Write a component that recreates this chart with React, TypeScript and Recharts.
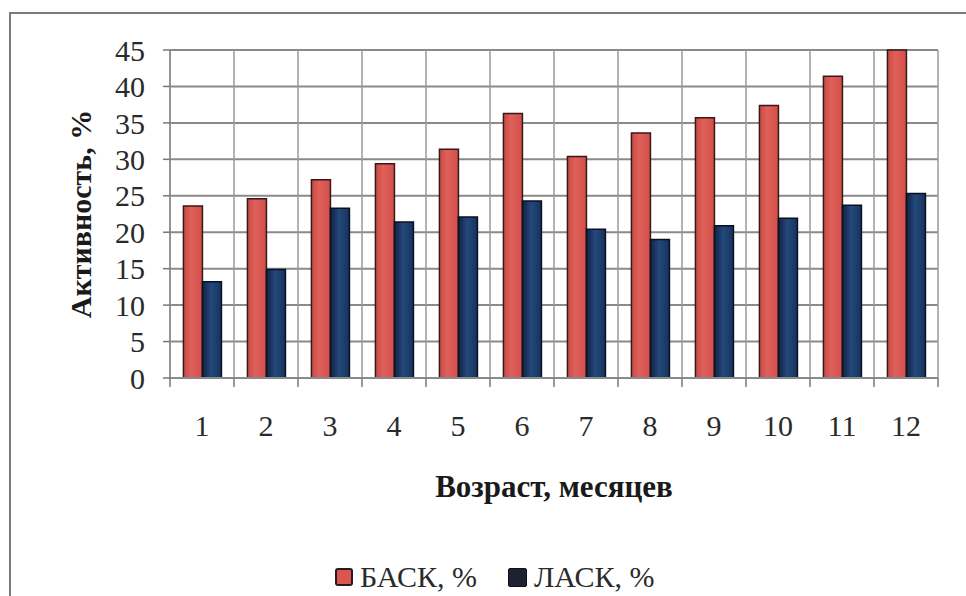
import React from 'react';
import {
  ComposedChart,
  Bar,
  XAxis,
  YAxis,
  CartesianGrid,
  ReferenceLine,
  Legend,
} from 'recharts';

const months = [1, 2, 3, 4, 5, 6, 7, 8, 9, 10, 11, 12];
const bask = [23.6, 24.6, 27.2, 29.4, 31.4, 36.3, 30.4, 33.6, 35.7, 37.4, 41.4, 45.0];
const lask = [13.2, 14.9, 23.3, 21.4, 22.1, 24.3, 20.4, 19.0, 20.9, 21.9, 23.7, 25.3];
const yTicks = [0, 5, 10, 15, 20, 25, 30, 35, 40, 45];

const seriesNames = ['БАСК, %', 'ЛАСК, %'];
const yTitle = 'Активность, %';
const xTitle = 'Возраст, месяцев';

const data = months.map((m, i) => ({ month: m, bask: bask[i], lask: lask[i] }));
const boundaries = [months[0] - 0.5, ...months.map((m) => m + 0.5)];
const xTicks = [...boundaries, ...months].sort((a, b) => a - b);

const FONT = '"Liberation Serif", "Times New Roman", Times, "Nimbus Roman", "DejaVu Serif", serif';

const XTick = (props: any) => {
  const { x, y, payload } = props;
  const v = payload.value;
  if (Number.isInteger(v)) {
    return (
      <text x={x} y={y + 58} textAnchor="middle" fontFamily={FONT} fontSize={30} fill="#2a2a2a">
        {v}
      </text>
    );
  }
  return <line x1={x} x2={x} y1={y} y2={y + 9} stroke="#777" strokeWidth={1.5} />;
};

const XTitle = (props: any) => {
  const vb = props.viewBox || {};
  return (
    <text
      x={vb.x + vb.width / 2}
      y={vb.y + 119}
      textAnchor="middle"
      fontFamily={FONT}
      fontSize={31}
      fontWeight="bold"
      fill="#1a1a1a"
    >
      {xTitle}
    </text>
  );
};

const YTitle = (props: any) => {
  const vb = props.viewBox || {};
  const cx = vb.x + 80;
  const cy = vb.y + vb.height / 2;
  return (
    <text
      x={cx}
      y={cy}
      transform={`rotate(-90, ${cx}, ${cy})`}
      textAnchor="middle"
      dominantBaseline="central"
      fontFamily={FONT}
      fontSize={30}
      fontWeight="bold"
      fill="#1a1a1a"
    >
      {yTitle}
    </text>
  );
};

const LegendContent = () => (
  <div
    style={{
      display: 'flex',
      justifyContent: 'flex-start',
      alignItems: 'center',
      paddingLeft: 335,
      paddingTop: 14,
      fontFamily: FONT,
      fontSize: 30,
      color: '#2a2a2a',
    }}
  >
    <span style={{ display: 'flex', alignItems: 'center', marginRight: 31 }}>
      <span
        style={{
          width: 14,
          height: 14,
          background: '#dc5651',
          border: '2px solid #2a1a1a',
          borderRadius: 3,
          marginRight: 7,
          display: 'inline-block',
        }}
      />
      {seriesNames[0]}
    </span>
    <span style={{ display: 'flex', alignItems: 'center' }}>
      <span
        style={{
          width: 17,
          height: 17,
          background: '#1c2233',
          border: '1px solid #111',
          borderRadius: 2,
          marginRight: 7,
          display: 'inline-block',
        }}
      />
      {seriesNames[1]}
    </span>
  </div>
);

export default function App() {
  return (
    <div style={{ position: 'absolute', left: 0, top: 0, width: 966, height: 596, background: '#fff', overflow: 'hidden' }}>
      <div
        style={{
          position: 'absolute',
          left: 9,
          top: 12,
          width: 1000,
          height: 700,
          borderTop: '2px solid #7a7a7a',
          borderLeft: '2px solid #7a7a7a',
        }}
      />
      <div style={{ position: 'absolute', left: 0, top: 0 }}>
        <ComposedChart
          width={966}
          height={596}
          data={data}
          margin={{ top: 50, right: 28, left: 0, bottom: 0 }}
          barCategoryGap="21%"
          barGap={0}
        >
          <defs>
            <linearGradient id="gRed" x1="0" y1="0" x2="1" y2="0">
              <stop offset="0%" stopColor="#c94a46" />
              <stop offset="40%" stopColor="#e0605a" />
              <stop offset="100%" stopColor="#d24f4a" />
            </linearGradient>
            <linearGradient id="gBlue" x1="0" y1="0" x2="1" y2="0">
              <stop offset="0%" stopColor="#0f2242" />
              <stop offset="45%" stopColor="#24497c" />
              <stop offset="100%" stopColor="#17325c" />
            </linearGradient>
          </defs>
          <CartesianGrid xAxisId="b" vertical={false} stroke="#8a8a8a" strokeWidth={2} />
          {boundaries.map((b) => (
            <ReferenceLine key={b} xAxisId="b" x={b} stroke="#9a9a9a" strokeWidth={1.5} />
          ))}
          <XAxis xAxisId="cat" dataKey="month" type="category" hide />
          <XAxis
            xAxisId="b"
            dataKey="month"
            type="number"
            domain={[0.5, 12.5]}
            ticks={xTicks}
            interval={0}
            allowDataOverflow
            height={168}
            tickSize={0}
            tickMargin={0}
            tickLine={false}
            axisLine={{ stroke: '#8a8a8a', strokeWidth: 2 }}
            tick={<XTick />}
            label={<XTitle />}
          />
          <YAxis
            width={170}
            domain={[0, 45]}
            ticks={yTicks}
            interval={0}
            tickSize={7}
            tickMargin={18}
            axisLine={{ stroke: '#8a8a8a', strokeWidth: 1.5 }}
            tickLine={{ stroke: '#777', strokeWidth: 1.5 }}
            tick={{ fontFamily: FONT, fontSize: 30, fill: '#2a2a2a' }}
            label={<YTitle />}
          />
          <Legend verticalAlign="bottom" height={50} content={<LegendContent />} />
          <Bar
            xAxisId="cat"
            dataKey="bask"
            name={seriesNames[0]}
            fill="url(#gRed)"
            stroke="#3a1616"
            strokeWidth={1.5}
            isAnimationActive={false}
          />
          <Bar
            xAxisId="cat"
            dataKey="lask"
            name={seriesNames[1]}
            fill="url(#gBlue)"
            stroke="#0a1020"
            strokeWidth={1.5}
            isAnimationActive={false}
          />
        </ComposedChart>
      </div>
    </div>
  );
}
